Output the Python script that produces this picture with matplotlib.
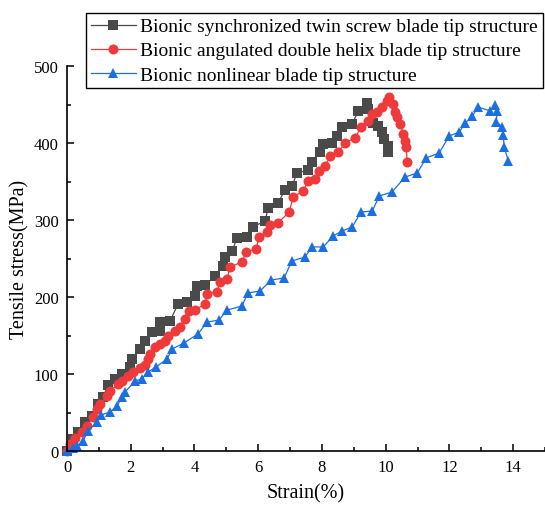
"""Tensile stress-strain curves for three bionic blade tip structures."""

import matplotlib
matplotlib.use("Agg")
import matplotlib.pyplot as plt
from matplotlib.ticker import MultipleLocator

plt.rcParams["font.family"] = ["Liberation Serif", "DejaVu Serif"]

# Bionic synchronized twin screw blade tip structure
twin_strain = [0, 0.19, 0.35, 0.57, 0.78, 0.97, 1.13, 1.29, 1.51, 1.73, 1.98, 2.04,
               2.29, 2.45, 2.67, 2.92, 2.92, 3.23, 3.49, 3.77, 4.02, 4.08, 4.33, 4.65,
               4.90, 4.96, 5.18, 5.34, 5.65, 5.84, 6.22, 6.31, 6.62, 6.84, 7.06, 7.22,
               7.57, 7.69, 7.94, 8.04, 8.32, 8.48, 8.63, 8.95, 9.14, 9.42, 9.45, 9.61,
               9.76, 9.89, 9.95, 10.08, 10.08]
twin_stress = [0, 15.6, 24.7, 37.7, 45.5, 61, 70, 86, 93.5, 100, 109, 119.5,
               132, 143, 154.5, 156, 167.5, 169, 191, 193.5, 201, 214, 215.6, 227,
               240, 252, 260, 276.6, 278, 291, 299, 315.6, 322, 339, 344, 361,
               365, 375, 388, 399, 400, 409, 421, 425, 441.5, 452, 444, 426,
               422, 414, 405, 396, 388]

# Bionic angulated double helix blade tip structure
helix_strain = [0, 0.09, 0.25, 0.47, 0.63, 0.82, 0.94, 1.04, 1.26, 1.35, 1.60, 1.73,
                1.92, 2.07, 2.29, 2.45, 2.54, 2.61, 2.76, 2.92, 3.08, 3.17, 3.39, 3.55,
                3.70, 3.83, 4.02, 4.33, 4.40, 4.71, 4.80, 5.02, 5.12, 5.49, 5.62, 5.93,
                6.03, 6.28, 6.37, 6.62, 6.97, 7.10, 7.41, 7.57, 7.79, 7.91, 8.10, 8.26,
                8.51, 8.73, 9.04, 9.23, 9.45, 9.58, 9.73, 9.89, 10.05, 10.11, 10.24,
                10.30, 10.36, 10.46, 10.55, 10.61, 10.64, 10.68]
helix_stress = [0, 9.1, 16.9, 24.7, 32.5, 44.2, 54.5, 61, 71.4, 77.9, 87, 90.9,
                97.4, 102.6, 107.8, 111.7, 119.5, 126, 135, 139, 142.9, 149.4, 155.8, 161,
                171.4, 181.8, 183, 191, 204, 206.5, 219.5, 223.4, 239, 245.5, 258.4, 262.3,
                278, 284.4, 293.5, 296, 310.4, 330, 337.7, 350.6, 353.2, 363.6, 370, 383,
                388.3, 400, 406.5, 420.8, 428.6, 437.7, 440.3, 446.8, 454.5, 459.7, 450.6,
                440.3, 433.8, 424.7, 411.7, 402.6, 394.8, 375.3]

# Bionic nonlinear blade tip structure
nonlinear_strain = [0, 0.19, 0.31, 0.50, 0.66, 0.94, 1.07, 1.35, 1.57, 1.73, 1.82, 2.14,
                    2.35, 2.54, 2.79, 3.14, 3.30, 3.67, 4.11, 4.40, 4.77, 5.02, 5.49, 5.68,
                    6.06, 6.40, 6.81, 7.06, 7.47, 7.69, 8.04, 8.35, 8.63, 8.95, 9.23, 9.58,
                    9.80, 10.20, 10.61, 10.99, 11.27, 11.68, 11.99, 12.31, 12.50, 12.72,
                    12.90, 13.28, 13.44, 13.50, 13.47, 13.66, 13.69, 13.72, 13.85]
nonlinear_stress = [0, 3.9, 6.5, 13, 26, 37.7, 46.8, 50.6, 58.4, 70.1, 76.6, 90.9,
                    93.5, 102.6, 109, 119.5, 132.5, 140.3, 152, 167.5, 170, 183, 188.3, 205.2,
                    207.8, 222, 224.7, 246.8, 252, 265, 265, 279.2, 285.7, 291, 310.4, 311.7,
                    331.2, 336.4, 355.8, 361, 380.5, 387, 409, 414.3, 426, 435,
                    446.8, 441.6, 449.4, 441.6, 427.3, 420.8, 410.4, 394.8, 376.6]

W, H = 545, 506
fig = plt.figure(figsize=(W / 100, H / 100), dpi=100)
ax = fig.add_axes([67 / W, 1 - 452 / H, 1 - 67 / W, (452 - 67) / H])

series = [
    (twin_strain, twin_stress, "#4a4a4a", "s", 6.5,
     "Bionic synchronized twin screw blade tip structure"),
    (helix_strain, helix_stress, "#ef3a3c", "o", 7.2,
     "Bionic angulated double helix blade tip structure"),
    (nonlinear_strain, nonlinear_stress, "#1c6fe0", "^", 7.8,
     "Bionic nonlinear blade tip structure"),
]
for x, y, color, marker, ms, label in series:
    ax.plot(x, y, color=color, lw=0.9, marker=marker, markersize=ms,
            markeredgewidth=0, label=label, clip_on=False)

ax.set_xlim(0, 15)
ax.set_ylim(0, 500)
ax.xaxis.set_major_locator(MultipleLocator(2))
ax.xaxis.set_minor_locator(MultipleLocator(1))
ax.yaxis.set_major_locator(MultipleLocator(100))
ax.yaxis.set_minor_locator(MultipleLocator(50))
ax.tick_params(which="both", direction="in", labelsize=12, width=1.1)
ax.tick_params(which="major", length=5, pad=6)
ax.tick_params(which="minor", length=3)
for side in ("top", "right"):
    ax.spines[side].set_visible(False)
for side in ("left", "bottom"):
    ax.spines[side].set_linewidth(1.2)

ax.set_xlabel("Strain(%)", fontsize=14.5, labelpad=6)
ax.set_ylabel("Tensile stress(MPa)", fontsize=14.5, labelpad=3)

leg = ax.legend(loc="upper left", bbox_to_anchor=(86 / W, 1 - 14 / H),
                bbox_transform=fig.transFigure, fontsize=14, frameon=True,
                fancybox=False, edgecolor="black", framealpha=1,
                borderpad=0.25, labelspacing=0.33, handlelength=2.3,
                handletextpad=0.25, borderaxespad=0)
leg.get_frame().set_linewidth(1.0)

fig.savefig("out.png", dpi=100)
